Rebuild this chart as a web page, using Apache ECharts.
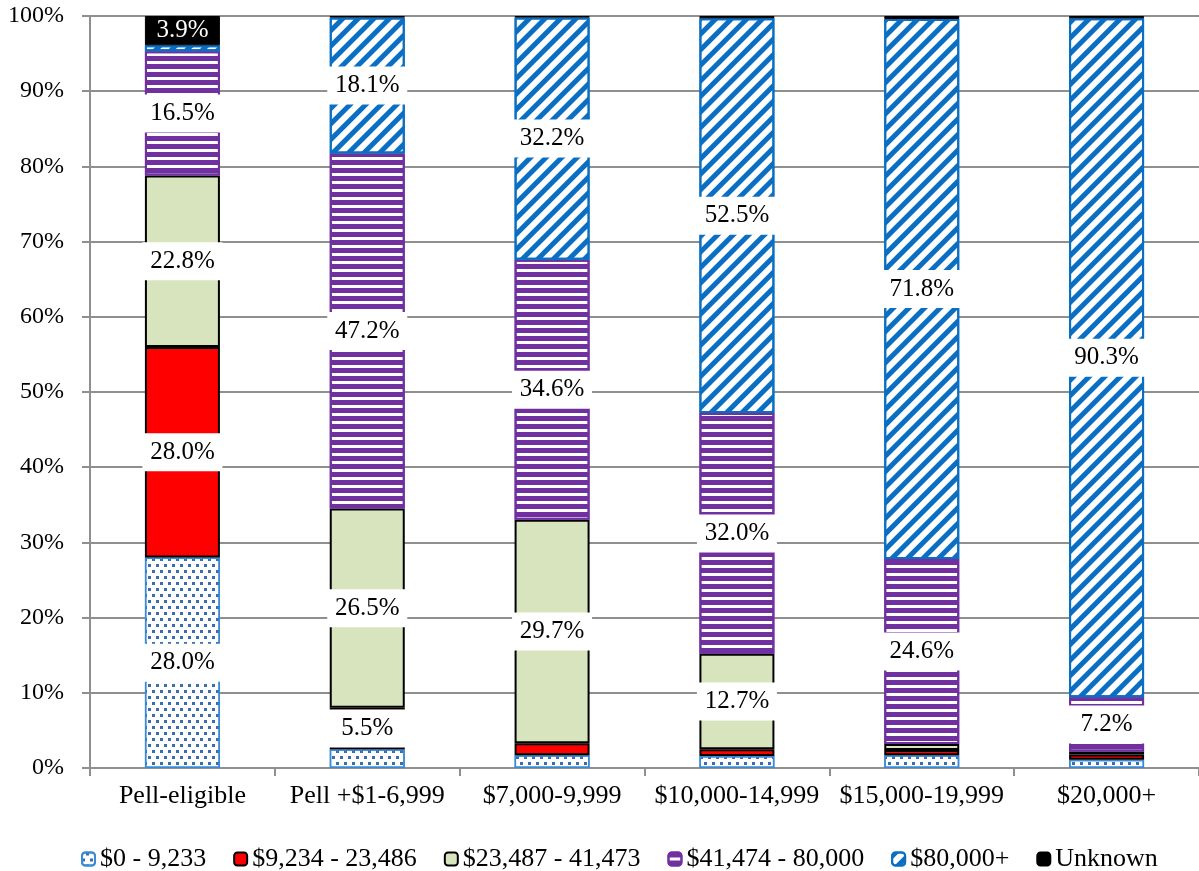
<!DOCTYPE html>
<html>
<head>
<meta charset="utf-8">
<script src="https://cdn.jsdelivr.net/npm/echarts@6/dist/echarts.min.js"></script>
<style>
  html, body { margin: 0; padding: 0; background: #fff; }
  #chart { width: 1199px; height: 871px; }
</style>
</head>
<body>
<div id="chart"></div>
<script>
(function () {
  var categories = ['Pell-eligible', 'Pell +$1-6,999', '$7,000-9,999', '$10,000-14,999', '$15,000-19,999', '$20,000+'];

  // share of students (%) by family income band
  var inc0to9233      = [28.0, 2.5, 1.7, 1.6, 1.7, 1.1];
  var inc9234to23486  = [28.0, 5.5, 1.6, 0.9, 0.7, 0.7];
  var inc23487to41473 = [22.8, 26.5, 29.7, 12.7, 0.8, 0.4];
  var inc41474to80000 = [16.5, 47.2, 34.6, 32.0, 24.6, 7.2];
  var inc80000plus    = [0.8, 18.1, 32.2, 52.5, 71.8, 90.3];
  var incUnknown      = [3.9, 0.2, 0.2, 0.3, 0.4, 0.3];

  var yTicks = [0, 10, 20, 30, 40, 50, 60, 70, 80, 90, 100];
  var labelMin = 3.5;   // smaller segments carry no label

  var font = 'Liberation Serif';
  var grey = '#8f8f8f';

  function pts(vals) {
    return vals.map(function (v) {
      return { value: v, label: { show: v >= labelMin } };
    });
  }

  var baseLabel = {
    position: 'inside',
    fontFamily: font,
    fontSize: 25,
    color: '#000',
    backgroundColor: '#fff',
    width: 80,
    height: 38,
    lineHeight: 38,
    align: 'center',
    verticalAlign: 'middle',
    formatter: function (p) { return p.value.toFixed(1) + '%'; }
  };

  function mk(name, vals, itemStyle, labelOver) {
    return {
      name: name,
      type: 'bar',
      stack: 'all',
      barWidth: 75,
      data: pts(vals),
      itemStyle: itemStyle,
      label: Object.assign({}, baseLabel, labelOver || {}),
      emphasis: { disabled: true }
    };
  }

  var chart = echarts.init(document.getElementById('chart'));

  chart.setOption({
    animation: false,
    textStyle: { fontFamily: font },
    grid: { left: 90, top: 16, width: 1116, height: 752 },
    legend: {
      top: 841,
      left: 76,
      itemWidth: 13,
      itemHeight: 13,
      itemGap: 27,
      textStyle: { fontFamily: font, fontSize: 26, color: '#000' },
      data: ['$0 - 9,233', '$9,234 - 23,486', '$23,487 - 41,473', '$41,474 - 80,000', '$80,000+', 'Unknown']
    },
    xAxis: {
      type: 'category',
      data: categories,
      axisLine: { lineStyle: { color: grey, width: 2 } },
      axisTick: { show: true, interval: 0, length: 8, lineStyle: { color: grey, width: 2 } },
      axisLabel: { interval: 0, color: '#000', fontFamily: font, fontSize: 26, margin: 15 }
    },
    yAxis: {
      type: 'value',
      min: yTicks[0],
      max: yTicks[yTicks.length - 1],
      interval: 10,
      axisLine: { show: true, lineStyle: { color: grey, width: 2 } },
      axisTick: { show: true, length: 8, lineStyle: { color: grey, width: 2 } },
      splitLine: { lineStyle: { color: grey, width: 2 } },
      axisLabel: { color: '#000', fontFamily: font, fontSize: 24, margin: 26, formatter: '{value}%' }
    },
    series: [
      mk('$0 - 9,233', inc0to9233, {
        color: '#fff', borderColor: '#3a8ad6', borderWidth: 1.5,
        decal: { symbol: 'rect', symbolSize: 1, color: '#3a6db0',
                 dashArrayX: [[3, 5], [0, 4, 3, 1]], dashArrayY: [3, 3] }
      }),
      mk('$9,234 - 23,486', inc9234to23486, {
        color: '#ff0000', borderColor: '#000', borderWidth: 2
      }),
      mk('$23,487 - 41,473', inc23487to41473, {
        color: '#d7e4bd', borderColor: '#000', borderWidth: 2
      }),
      mk('$41,474 - 80,000', inc41474to80000, {
        color: '#fff', borderColor: '#7030a0', borderWidth: 2,
        decal: { symbol: 'rect', symbolSize: 1, color: '#7030a0',
                 dashArrayX: [1, 0], dashArrayY: [5, 2.5] }
      }),
      mk('$80,000+', inc80000plus, {
        color: '#fff', borderColor: '#0a6fc2', borderWidth: 2,
        decal: { symbol: 'rect', symbolSize: 1, color: '#0a6fc2',
                 dashArrayX: [1, 0], dashArrayY: [4.5, 6], rotation: -Math.PI / 4 }
      }),
      mk('Unknown', incUnknown, {
        color: '#000', borderColor: '#000', borderWidth: 1
      }, { color: '#fff', backgroundColor: 'transparent' })
    ]
  });
})();
</script>
</body>
</html>
